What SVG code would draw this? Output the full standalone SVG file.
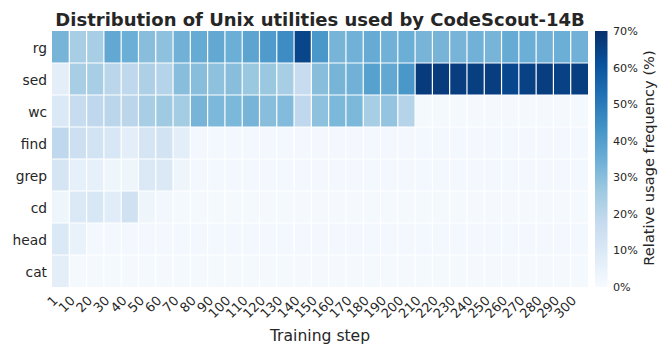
<svg xmlns="http://www.w3.org/2000/svg" width="658" height="348" viewBox="0 0 658 348">
<defs>
<linearGradient id="blues" x1="0" y1="1" x2="0" y2="0">
<stop offset="0" stop-color="#f7fbff"/>
<stop offset="0.125" stop-color="#deebf7"/>
<stop offset="0.25" stop-color="#c6dbef"/>
<stop offset="0.375" stop-color="#9ecae1"/>
<stop offset="0.5" stop-color="#6baed6"/>
<stop offset="0.625" stop-color="#4292c6"/>
<stop offset="0.75" stop-color="#2171b5"/>
<stop offset="0.875" stop-color="#08519c"/>
<stop offset="1" stop-color="#08306b"/>
</linearGradient>
<style>
text{font-family:"DejaVu Sans","Liberation Sans",sans-serif;fill:#262626}
.title{font-size:18px;font-weight:bold;text-anchor:middle}
.row{font-size:13.8px;text-anchor:end}
.xt{font-size:13px;text-anchor:end}
.cb{font-size:11.2px}
.axl{font-size:15.6px;text-anchor:middle}
.cbl{font-size:14.6px;text-anchor:middle}
.grid line{stroke:#ffffff;stroke-width:1.2}
</style>
</defs>
<rect width="658" height="348" fill="#ffffff"/>
<text class="title" x="320" y="26">Distribution of Unix utilities used by CodeScout-14B</text>
<g id="heatmap">
<rect x="52" y="31" width="536" height="256" fill="#f4f9fe"/>
<g id="row-rg" transform="translate(0,31)">
<rect x="52" width="17.4" height="32" fill="#77b4d8"/><rect x="69.29" width="17.4" height="32" fill="#a8cee5"/><rect x="86.58" width="17.4" height="32" fill="#a8cee5"/><rect x="103.87" width="17.4" height="32" fill="#62a8d2"/><rect x="121.16" width="17.4" height="32" fill="#6baed6"/><rect x="138.45" width="17.4" height="32" fill="#88bedc"/><rect x="155.74" width="17.4" height="32" fill="#8ec1dd"/><rect x="173.03" width="17.4" height="32" fill="#71b1d7"/><rect x="190.32" width="17.4" height="32" fill="#66abd4"/><rect x="207.61" width="17.4" height="32" fill="#62a8d2"/><rect x="224.9" width="17.4" height="32" fill="#6baed6"/><rect x="242.19" width="17.4" height="32" fill="#5da4d0"/><rect x="259.48" width="17.4" height="32" fill="#4f9bcb"/><rect x="276.77" width="17.4" height="32" fill="#3d8dc4"/><rect x="294.06" width="17.4" height="32" fill="#084589"/><rect x="311.35" width="17.4" height="32" fill="#4a98c9"/><rect x="328.64" width="17.4" height="32" fill="#77b4d8"/><rect x="345.93" width="17.4" height="32" fill="#71b1d7"/><rect x="363.22" width="17.4" height="32" fill="#66abd4"/><rect x="380.51" width="17.4" height="32" fill="#71b1d7"/><rect x="397.8" width="17.4" height="32" fill="#6baed6"/><rect x="415.09" width="17.4" height="32" fill="#77b4d8"/><rect x="432.38" width="17.4" height="32" fill="#77b4d8"/><rect x="449.67" width="17.4" height="32" fill="#77b4d8"/><rect x="466.96" width="17.4" height="32" fill="#71b1d7"/><rect x="484.25" width="17.4" height="32" fill="#77b4d8"/><rect x="501.54" width="17.4" height="32" fill="#66abd4"/><rect x="518.83" width="17.4" height="32" fill="#6baed6"/><rect x="536.12" width="17.4" height="32" fill="#71b1d7"/><rect x="553.41" width="17.4" height="32" fill="#6baed6"/><rect x="570.7" width="17.3" height="32" fill="#71b1d7"/>
</g>
<g id="row-sed" transform="translate(0,63)">
<rect x="52" width="17.4" height="32" fill="#e3eef9"/><rect x="69.29" width="17.4" height="32" fill="#a8cee5"/><rect x="86.58" width="17.4" height="32" fill="#a8cee5"/><rect x="103.87" width="17.4" height="32" fill="#bbd6eb"/><rect x="121.16" width="17.4" height="32" fill="#bfd8ed"/><rect x="138.45" width="17.4" height="32" fill="#add0e6"/><rect x="155.74" width="17.4" height="32" fill="#b6d4e9"/><rect x="173.03" width="17.4" height="32" fill="#88bedc"/><rect x="190.32" width="17.4" height="32" fill="#88bedc"/><rect x="207.61" width="17.4" height="32" fill="#8ec1dd"/><rect x="224.9" width="17.4" height="32" fill="#88bedc"/><rect x="242.19" width="17.4" height="32" fill="#9ac8e0"/><rect x="259.48" width="17.4" height="32" fill="#9ac8e0"/><rect x="276.77" width="17.4" height="32" fill="#a8cee5"/><rect x="294.06" width="17.4" height="32" fill="#c7dcef"/><rect x="311.35" width="17.4" height="32" fill="#88bedc"/><rect x="328.64" width="17.4" height="32" fill="#77b4d8"/><rect x="345.93" width="17.4" height="32" fill="#71b1d7"/><rect x="363.22" width="17.4" height="32" fill="#57a1cf"/><rect x="380.51" width="17.4" height="32" fill="#62a8d2"/><rect x="397.8" width="17.4" height="32" fill="#4a98c9"/><rect x="415.09" width="17.4" height="32" fill="#083b7c"/><rect x="432.38" width="17.4" height="32" fill="#083b7c"/><rect x="449.67" width="17.4" height="32" fill="#083d7f"/><rect x="466.96" width="17.4" height="32" fill="#083f81"/><rect x="484.25" width="17.4" height="32" fill="#083d7f"/><rect x="501.54" width="17.4" height="32" fill="#08478d"/><rect x="518.83" width="17.4" height="32" fill="#084184"/><rect x="536.12" width="17.4" height="32" fill="#083d7f"/><rect x="553.41" width="17.4" height="32" fill="#084184"/><rect x="570.7" width="17.3" height="32" fill="#083f81"/>
</g>
<g id="row-wc" transform="translate(0,95)">
<rect x="52" width="17.4" height="32" fill="#dbe9f6"/><rect x="69.29" width="17.4" height="32" fill="#c7dcef"/><rect x="86.58" width="17.4" height="32" fill="#bfd8ed"/><rect x="103.87" width="17.4" height="32" fill="#bbd6eb"/><rect x="121.16" width="17.4" height="32" fill="#bbd6eb"/><rect x="138.45" width="17.4" height="32" fill="#a8cee5"/><rect x="155.74" width="17.4" height="32" fill="#9fcae1"/><rect x="173.03" width="17.4" height="32" fill="#a4cce3"/><rect x="190.32" width="17.4" height="32" fill="#77b4d8"/><rect x="207.61" width="17.4" height="32" fill="#7cb8d9"/><rect x="224.9" width="17.4" height="32" fill="#7cb8d9"/><rect x="242.19" width="17.4" height="32" fill="#77b4d8"/><rect x="259.48" width="17.4" height="32" fill="#88bedc"/><rect x="276.77" width="17.4" height="32" fill="#82bbdb"/><rect x="294.06" width="17.4" height="32" fill="#bfd8ed"/><rect x="311.35" width="17.4" height="32" fill="#8ec1dd"/><rect x="328.64" width="17.4" height="32" fill="#7cb8d9"/><rect x="345.93" width="17.4" height="32" fill="#7cb8d9"/><rect x="363.22" width="17.4" height="32" fill="#a8cee5"/><rect x="380.51" width="17.4" height="32" fill="#94c4df"/><rect x="397.8" width="17.4" height="32" fill="#b6d4e9"/>
</g>
<g id="row-find" transform="translate(0,127)">
<rect x="52" width="17.4" height="32" fill="#bfd8ed"/><rect x="69.29" width="17.4" height="32" fill="#cde0f1"/><rect x="86.58" width="17.4" height="32" fill="#d2e3f3"/><rect x="103.87" width="17.4" height="32" fill="#d8e7f5"/><rect x="121.16" width="17.4" height="32" fill="#e3eef9"/><rect x="138.45" width="17.4" height="32" fill="#d5e5f4"/><rect x="155.74" width="17.4" height="32" fill="#d2e3f3"/><rect x="173.03" width="17.4" height="32" fill="#e3eef9"/><rect x="190.32" width="397.7" height="32" fill="#f3f8fe"/>
</g>
<g id="row-grep" transform="translate(0,159)">
<rect x="52" width="17.4" height="32" fill="#d5e5f4"/><rect x="69.29" width="17.4" height="32" fill="#e6f0fa"/><rect x="86.58" width="17.4" height="32" fill="#e6f0fa"/><rect x="103.87" width="17.4" height="32" fill="#eef6fc"/><rect x="121.16" width="17.4" height="32" fill="#eef6fc"/><rect x="138.45" width="17.4" height="32" fill="#dbe9f6"/><rect x="155.74" width="17.4" height="32" fill="#dbe9f6"/><rect x="173.03" width="17.4" height="32" fill="#eef6fc"/><rect x="190.32" width="397.7" height="32" fill="#f3f8fe"/>
</g>
<g id="row-cd" transform="translate(0,191)">
<rect x="52" width="17.4" height="32" fill="#eef6fc"/><rect x="69.29" width="17.4" height="32" fill="#dbe9f6"/><rect x="86.58" width="17.4" height="32" fill="#d8e7f5"/><rect x="103.87" width="17.4" height="32" fill="#e0ecf8"/><rect x="121.16" width="17.4" height="32" fill="#d0e1f2"/><rect x="138.45" width="17.4" height="32" fill="#eef6fc"/><rect x="155.74" width="17.4" height="32" fill="#f1f7fd"/>
</g>
<g id="row-head" transform="translate(0,223)">
<rect x="52" width="17.4" height="32" fill="#dbe9f6"/><rect x="69.29" width="17.4" height="32" fill="#e9f2fa"/><rect x="86.58" width="501.4" height="32" fill="#f3f8fe"/>
</g>
<g id="row-cat" transform="translate(0,255)">
<rect x="52" width="17.4" height="32" fill="#e3eef9"/>
</g>
<g class="grid">
<line x1="69.29" y1="31" x2="69.29" y2="287"/><line x1="86.58" y1="31" x2="86.58" y2="287"/><line x1="103.87" y1="31" x2="103.87" y2="287"/><line x1="121.16" y1="31" x2="121.16" y2="287"/><line x1="138.45" y1="31" x2="138.45" y2="287"/><line x1="155.74" y1="31" x2="155.74" y2="287"/><line x1="173.03" y1="31" x2="173.03" y2="287"/><line x1="190.32" y1="31" x2="190.32" y2="287"/><line x1="207.61" y1="31" x2="207.61" y2="287"/><line x1="224.9" y1="31" x2="224.9" y2="287"/><line x1="242.19" y1="31" x2="242.19" y2="287"/><line x1="259.48" y1="31" x2="259.48" y2="287"/><line x1="276.77" y1="31" x2="276.77" y2="287"/><line x1="294.06" y1="31" x2="294.06" y2="287"/><line x1="311.35" y1="31" x2="311.35" y2="287"/><line x1="328.64" y1="31" x2="328.64" y2="287"/><line x1="345.93" y1="31" x2="345.93" y2="287"/><line x1="363.22" y1="31" x2="363.22" y2="287"/><line x1="380.51" y1="31" x2="380.51" y2="287"/><line x1="397.8" y1="31" x2="397.8" y2="287"/><line x1="415.09" y1="31" x2="415.09" y2="287"/><line x1="432.38" y1="31" x2="432.38" y2="287"/><line x1="449.67" y1="31" x2="449.67" y2="287"/><line x1="466.96" y1="31" x2="466.96" y2="287"/><line x1="484.25" y1="31" x2="484.25" y2="287"/><line x1="501.54" y1="31" x2="501.54" y2="287"/><line x1="518.83" y1="31" x2="518.83" y2="287"/><line x1="536.12" y1="31" x2="536.12" y2="287"/><line x1="553.41" y1="31" x2="553.41" y2="287"/><line x1="570.7" y1="31" x2="570.7" y2="287"/>
<line x1="52" y1="63" x2="588" y2="63"/><line x1="52" y1="95" x2="588" y2="95"/><line x1="52" y1="127" x2="588" y2="127"/><line x1="52" y1="159" x2="588" y2="159"/><line x1="52" y1="191" x2="588" y2="191"/><line x1="52" y1="223" x2="588" y2="223"/><line x1="52" y1="255" x2="588" y2="255"/>
</g>
</g>
<g id="row-labels">
<text class="row" x="47" y="52.5">rg</text>
<text class="row" x="47" y="84.5">sed</text>
<text class="row" x="47" y="116.5">wc</text>
<text class="row" x="47" y="148.5">find</text>
<text class="row" x="47" y="180.5">grep</text>
<text class="row" x="47" y="212.5">cd</text>
<text class="row" x="47" y="244.5">head</text>
<text class="row" x="47" y="276.5">cat</text>
</g>
<g id="x-ticks">
<text class="xt" transform="translate(58.5,301.5) rotate(-45)">1</text>
<text class="xt" transform="translate(75.8,301.5) rotate(-45)">10</text>
<text class="xt" transform="translate(93.1,301.5) rotate(-45)">20</text>
<text class="xt" transform="translate(110.4,301.5) rotate(-45)">30</text>
<text class="xt" transform="translate(127.7,301.5) rotate(-45)">40</text>
<text class="xt" transform="translate(145,301.5) rotate(-45)">50</text>
<text class="xt" transform="translate(162.3,301.5) rotate(-45)">60</text>
<text class="xt" transform="translate(179.6,301.5) rotate(-45)">70</text>
<text class="xt" transform="translate(196.9,301.5) rotate(-45)">80</text>
<text class="xt" transform="translate(214.2,301.5) rotate(-45)">90</text>
<text class="xt" transform="translate(231.4,301.5) rotate(-45)">100</text>
<text class="xt" transform="translate(248.7,301.5) rotate(-45)">110</text>
<text class="xt" transform="translate(266,301.5) rotate(-45)">120</text>
<text class="xt" transform="translate(283.3,301.5) rotate(-45)">130</text>
<text class="xt" transform="translate(300.6,301.5) rotate(-45)">140</text>
<text class="xt" transform="translate(317.9,301.5) rotate(-45)">150</text>
<text class="xt" transform="translate(335.2,301.5) rotate(-45)">160</text>
<text class="xt" transform="translate(352.5,301.5) rotate(-45)">170</text>
<text class="xt" transform="translate(369.8,301.5) rotate(-45)">180</text>
<text class="xt" transform="translate(387.1,301.5) rotate(-45)">190</text>
<text class="xt" transform="translate(404.3,301.5) rotate(-45)">200</text>
<text class="xt" transform="translate(421.6,301.5) rotate(-45)">210</text>
<text class="xt" transform="translate(438.9,301.5) rotate(-45)">220</text>
<text class="xt" transform="translate(456.2,301.5) rotate(-45)">230</text>
<text class="xt" transform="translate(473.5,301.5) rotate(-45)">240</text>
<text class="xt" transform="translate(490.8,301.5) rotate(-45)">250</text>
<text class="xt" transform="translate(508.1,301.5) rotate(-45)">260</text>
<text class="xt" transform="translate(525.4,301.5) rotate(-45)">270</text>
<text class="xt" transform="translate(542.7,301.5) rotate(-45)">280</text>
<text class="xt" transform="translate(560,301.5) rotate(-45)">290</text>
<text class="xt" transform="translate(577.2,301.5) rotate(-45)">300</text>
</g>
<text class="axl" x="320" y="341">Training step</text>
<g id="colorbar">
<rect x="595" y="31" width="12.5" height="256" fill="url(#blues)"/>
<text class="cb" x="613" y="291">0%</text>
<text class="cb" x="613" y="254.4">10%</text>
<text class="cb" x="613" y="217.9">20%</text>
<text class="cb" x="613" y="181.3">30%</text>
<text class="cb" x="613" y="144.7">40%</text>
<text class="cb" x="613" y="108.1">50%</text>
<text class="cb" x="613" y="71.6">60%</text>
<text class="cb" x="613" y="35">70%</text>
<text class="cbl" transform="translate(654,158) rotate(-90)">Relative usage frequency (%)</text>
</g>
</svg>
